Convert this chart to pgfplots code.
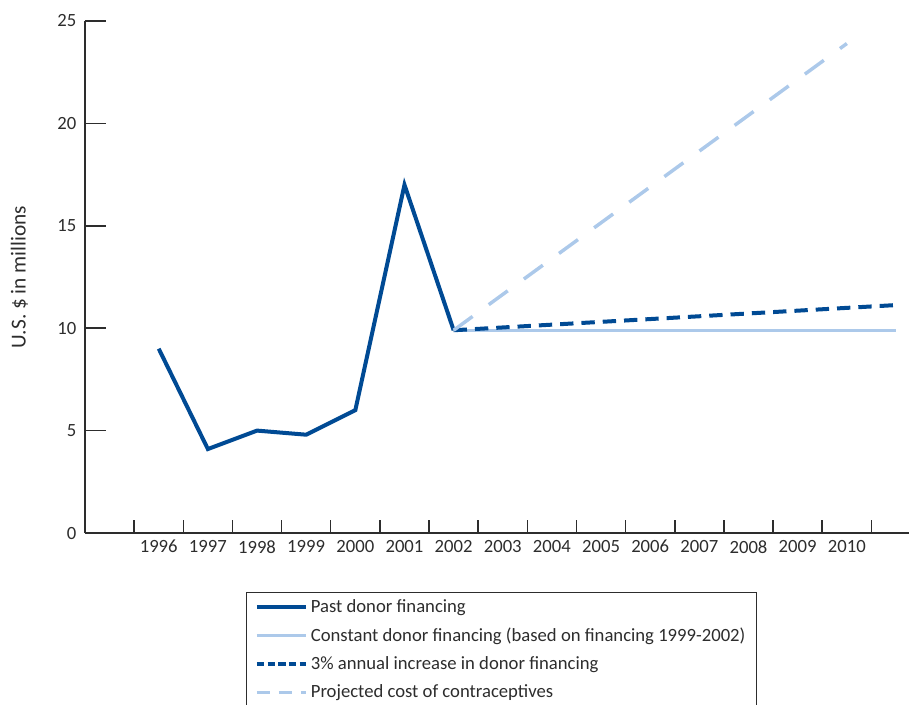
\documentclass[border=0pt]{standalone}
\usepackage{pgfplots}
\pgfplotsset{compat=1.18}
\usepackage{fontspec}
\setmainfont{Carlito}
\definecolor{darkblue}{RGB}{0,74,148}
\definecolor{lightblue}{RGB}{172,201,234}
\definecolor{axisgray}{RGB}{45,45,45}

\begin{document}
\begin{tikzpicture}
\begin{axis}[
	scale only axis,
	width=623pt, height=384pt,
	xmin=1994.5, xmax=2011.4,
	ymin=0, ymax=25,
	axis x line=bottom, axis y line=left,
	axis line style={axisgray, line width=1.1pt, -},
	tick align=inside,
	tick style={axisgray, line width=1.1pt},
	major tick length=15.75pt,
	minor tick length=9.75pt,
	xtick={1996,...,2010},
	xticklabels={1996,1997,1998,1999,2000,2001,2002,2003,2004,2005,2006,2007,2008,2009,2010},
	major x tick style={draw=none},
	minor xtick={1995.5,1996.5,...,2010.5},
	ytick={0,5,...,25},
	yticklabels={0,5,10,15,20,25},
	/pgf/number format/assume math mode=true,
	ticklabel style={font=\fontsize{14}{16}\selectfont, text=axisgray},
	y tick label style={xshift=-3pt},
	x tick label style={yshift=-2pt},
	ylabel={\fontsize{16}{18}\selectfont U.S. \$ in millions},
	y label style={at={(axis description cs:-0.0789,0.5)}, anchor=center,
		text=axisgray},
	legend style={at={(axis description cs:0.1942,-0.1152)}, anchor=north west,
		draw=axisgray, line width=0.8pt, font=\fontsize{14}{16}\selectfont,
		text=axisgray, inner xsep=6pt, inner ysep=3pt, row sep=6pt,
		nodes={inner sep=2pt}},
	legend cell align=left,
	legend image code/.code={\draw[#1] (0pt,0pt) -- (37pt,0pt);},
	clip=false,
]
% legend samples
\addlegendimage{darkblue, line width=3pt}
\addlegendimage{lightblue, line width=2.6pt}
\addlegendimage{darkblue, line width=3pt, dash pattern=on 5.6pt off 2.4pt}
\addlegendimage{lightblue, line width=2.6pt, dash pattern=on 10pt off 6.5pt}
% data
\addplot[darkblue, line width=3pt, forget plot] coordinates {
	(1996,9.0) (1997,4.1) (1998,5.0) (1999,4.8) (2000,6.0) (2001,17.0) (2002,9.9)};
\addplot[lightblue, line width=2.6pt, forget plot] coordinates {(2002,9.9) (2011,9.9)};
\addplot[darkblue, line width=3pt, dash pattern=on 10pt off 6pt, forget plot] coordinates {
	(2002,9.9) (2011,11.13)};
\addplot[lightblue, line width=2.6pt, dash pattern=on 17.6pt off 15pt, forget plot] coordinates {
	(2002,9.9) (2010,23.9)};
\legend{Past donor financing,
	Constant donor financing (based on financing 1999-2002),
	3\% annual increase in donor financing,
	Projected cost of contraceptives}
\end{axis}
\pgfresetboundingbox
\useasboundingbox (-63.75pt,-128.25pt) rectangle (618pt,399.75pt);
\end{tikzpicture}
\end{document}
